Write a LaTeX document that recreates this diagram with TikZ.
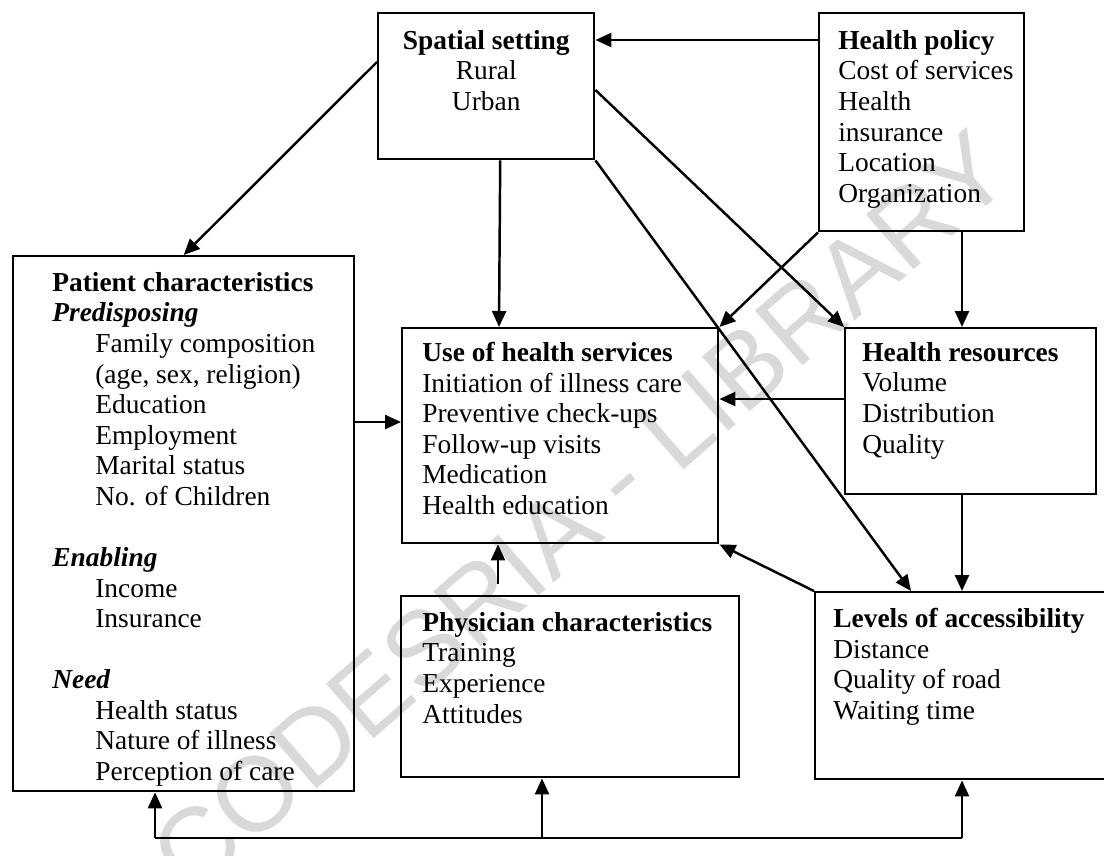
\documentclass[tikz,border=0pt]{standalone}
\usepackage{fontspec}
\setmainfont{Liberation Serif}
\newfontfamily\wmfont{Liberation Sans}
\usetikzlibrary{arrows.meta}
\usetikzlibrary{calc}

\tikzset{
  box/.style={draw, line width=1.4pt, anchor=north west, inner sep=0pt},
  txt/.style={anchor=north west, inner sep=0pt, align=left, font=\fontsize{15.6}{17.4}\selectfont},
  arr/.style={-{Triangle[length=\l, width=\w]}, line width=1.4pt},
}

\begin{document}
\begin{tikzpicture}[x=0.02cm, y=-0.02cm]
\def\l{3.2mm}
\def\w{2.8mm}
\def\ind{0.86cm}
\useasboundingbox (0,0) rectangle (1104,855);
%watermark of the scan
\node[rotate=41, text=black!15, font=\wmfont\fontsize{60}{60}\selectfont] (wm) at (580,512) {CODESRIA - LIBRARY};
%boxes
\node[box, minimum width=4.32cm, minimum height=2.92cm] (sp) at (377,12) {};
\node[box, minimum width=4.10cm, minimum height=4.36cm] (hp) at (818,12) {};
\node[box, minimum width=6.82cm, minimum height=10.70cm] (pa) at (12,255) {};
\node[box, minimum width=6.32cm, minimum height=4.30cm] (us) at (401,327) {};
\node[box, minimum width=5.02cm, minimum height=3.32cm] (hr) at (844,327) {};
\node[box, minimum width=6.76cm, minimum height=3.62cm] (ph) at (400,595) {};
\node[box, minimum width=6.00cm, minimum height=3.74cm] (lv) at (814,591) {};
%texts
\node[txt, anchor=north, align=center] (sp-t) at ($(sp.north)+(0,18)$) {\textbf{Spatial setting}\\Rural\\Urban};
\node[txt] (hp-t) at ($(hp.north west)+(20,18)$) {\textbf{Health policy}\\Cost of services\\Health\\insurance\\Location\\Organization};
\node[txt] (pa-t) at ($(pa.north west)+(40,17)$) {\textbf{Patient characteristics}\\
\textbf{\textit{Predisposing}}\\
\hspace*{\ind}Family composition\\
\hspace*{\ind}(age, sex, religion)\\
\hspace*{\ind}Education\\
\hspace*{\ind}Employment\\
\hspace*{\ind}Marital status\\
\hspace*{\ind}No. of Children\\[17.4pt]
\textbf{\textit{Enabling}}\\
\hspace*{\ind}Income\\
\hspace*{\ind}Insurance\\[17.4pt]
\textbf{\textit{Need}}\\
\hspace*{\ind}Health status\\
\hspace*{\ind}Nature of illness\\
\hspace*{\ind}Perception of care};
\node[txt] (us-t) at ($(us.north west)+(21,15)$) {\textbf{Use of health services}\\Initiation of illness care\\Preventive check-ups\\Follow-up visits\\Medication\\Health education};
\node[txt] (hr-t) at ($(hr.north west)+(18,15)$) {\textbf{Health resources}\\Volume\\Distribution\\Quality};
\node[txt] (ph-t) at ($(ph.north west)+(22,17)$) {\textbf{Physician characteristics}\\Training\\Experience\\Attitudes};
\node[txt] (lv-t) at ($(lv.north west)+(19,17)$) {\textbf{Levels of accessibility}\\Distance\\Quality of road\\Waiting time};
%free ends
\coordinate (phu) at (498,584);
\coordinate (fb1) at (155,838);
\coordinate (fb2) at (542,838);
\coordinate (fb3) at (962,838);
%arrows
\draw[arr] ($(hp.north west)+(0,28)$) -- ($(sp.north east)+(0,28)$);
\draw[arr] ($(sp.north west)+(0,50)$) -- (pa.north);
\draw[arr] ($(sp.south)+(14,0)$) -- ($(us.north west)+(98,0)$);
\draw[arr] ($(sp.north east)+(0,78)$) -- (hr.north west);
\draw[arr] (sp.south east) -- ($(lv.north west)+(97,0)$);
\draw[arr] (hp.south west) -- (us.north east);
\draw[arr] ($(hp.south west)+(144,0)$) -- ($(hr.north west)+(118,0)$);
\draw[arr] ($(hr.north west)+(0,72)$) -- ($(us.north east)+(0,72)$);
\draw[arr] ($(hr.south west)+(118,0)$) -- ($(lv.north west)+(148,0)$);
\draw[arr] (lv.north west) -- (us.south east);
\draw[arr] ($(pa.north east)+(0,167)$) -- ($(us.north west)+(0,95)$);
\draw[arr] (phu) -- (phu |- us.south);
\draw[line width=1.4pt] (fb1) -- (fb3);
\draw[arr] (fb1) -- (pa.south -| fb1);
\draw[arr] (fb2) -- (ph.south -| fb2);
\draw[arr] (fb3) -- (lv.south -| fb3);
\end{tikzpicture}
\end{document}
